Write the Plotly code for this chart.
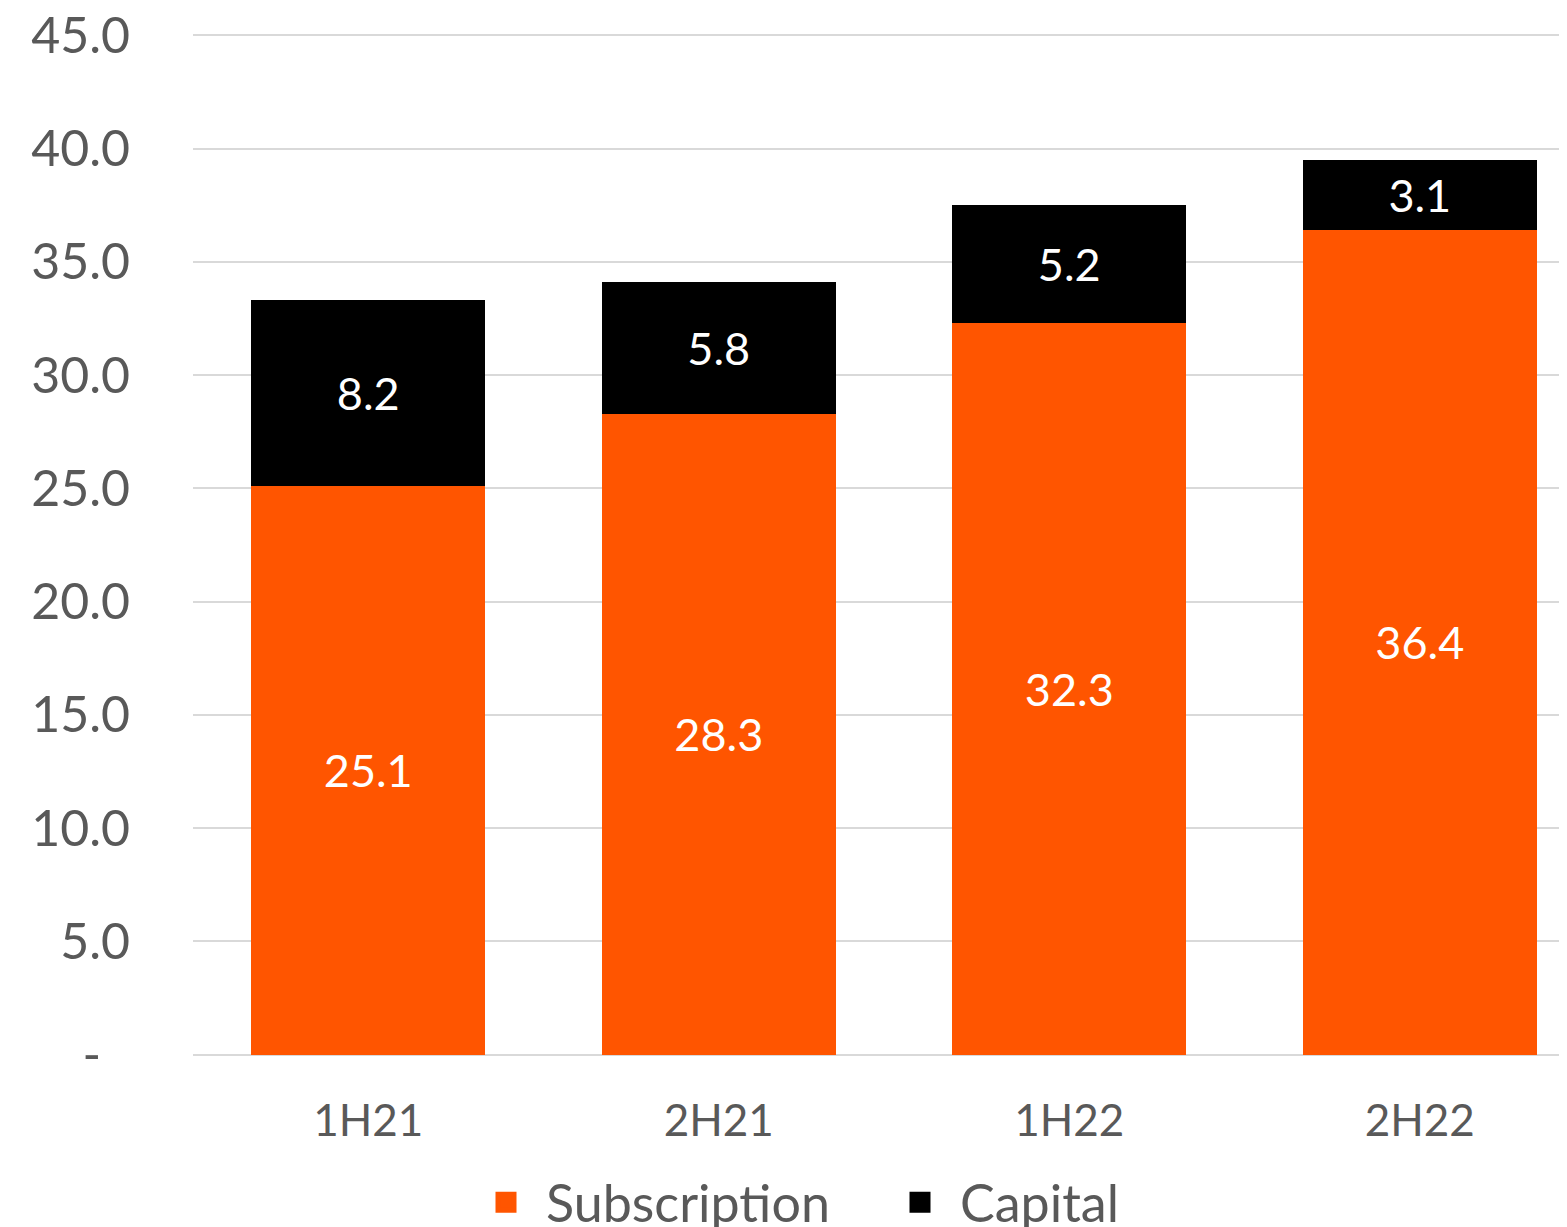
import plotly.graph_objects as go

categories = ["1H21", "2H21", "1H22", "2H22"]
subscription = [25.1, 28.3, 32.3, 36.4]
capital = [8.2, 5.8, 5.2, 3.1]
y_tick_vals = [0, 5, 10, 15, 20, 25, 30, 35, 40, 45]
y_tick_text = ["-\u2007", "5.0", "10.0", "15.0", "20.0", "25.0", "30.0", "35.0", "40.0", "45.0"]

FONT = "Lato"
GREY = "#595959"
ORANGE = "#FF5500"
BLACK = "#000000"

fig = go.Figure()
fig.add_trace(go.Bar(
    x=categories, y=subscription, name="Subscription", showlegend=False,
    marker=dict(color=ORANGE, line=dict(width=0)),
    text=[f"{v:.1f}" for v in subscription], textposition="inside",
    insidetextanchor="middle", textangle=0,
    textfont=dict(color="white", size=45, family=FONT),
))
fig.add_trace(go.Bar(
    x=categories, y=capital, name="Capital", showlegend=False,
    marker=dict(color=BLACK, line=dict(width=0)),
    text=[f"{v:.1f}" for v in capital], textposition="inside",
    insidetextanchor="middle", textangle=0,
    textfont=dict(color="white", size=45, family=FONT),
))
# legend entries (no data drawn)
for name, col in [("Subscription", ORANGE), ("Capital", BLACK)]:
    fig.add_trace(go.Scatter(
        x=[None], y=[None], mode="markers", name=name,
        marker=dict(symbol="square", size=16, color=col, line=dict(color=col, width=5)),
    ))

fig.update_layout(
    barmode="stack",
    bargap=0.333,
    width=1559, height=1219,
    margin=dict(l=185, r=0, t=25, b=170, pad=0, autoexpand=False),
    plot_bgcolor="white", paper_bgcolor="white",
    font=dict(family=FONT, color=GREY, size=44),
    legend=dict(
        orientation="h", x=0.5, xanchor="center", y=-0.142, yanchor="middle",
        font=dict(size=52, color=GREY, family=FONT),
        itemwidth=70, itemsizing="trace", traceorder="normal",
        entrywidth=329, entrywidthmode="pixels",
    ),
    xaxis=dict(
        type="category", range=[-0.5, 3.420], automargin=False,
        showgrid=False, zeroline=False, showline=False,
        ticks="outside", ticklen=25, tickcolor="rgba(0,0,0,0)",
        ticklabeloverflow="allow",
        tickfont=dict(size=44, color=GREY, family=FONT),
    ),
    yaxis=dict(
        range=[-0.1, 45.1], tickvals=y_tick_vals, ticktext=y_tick_text,
        automargin=False,
        showgrid=True, gridcolor="#D9D9D9", gridwidth=2,
        zeroline=False, showline=False,
        ticks="outside", ticklen=52, tickcolor="rgba(0,0,0,0)",
        ticklabeloverflow="allow",
        tickfont=dict(size=50, color=GREY, family=FONT),
    ),
)

fig.write_html("out.html")
